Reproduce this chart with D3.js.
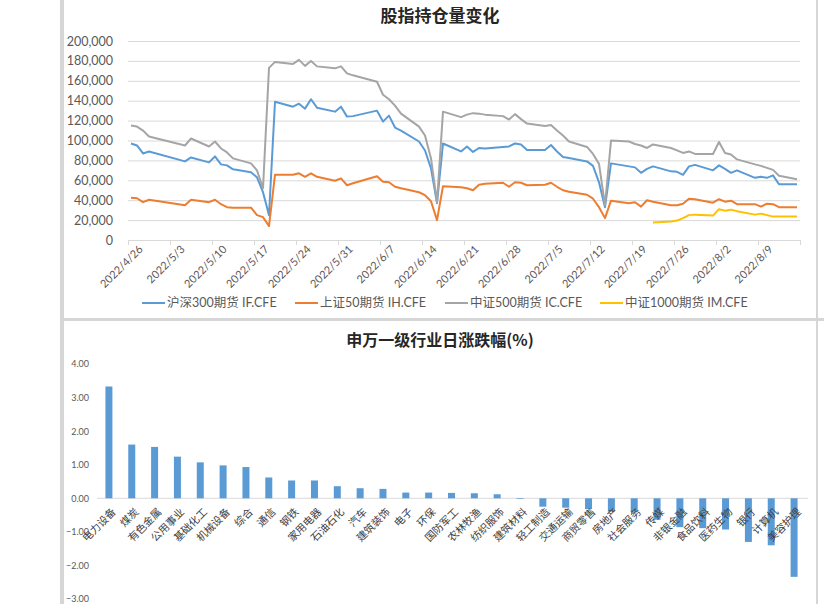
<!DOCTYPE html>
<html><head><meta charset="utf-8">
<script src="https://cdn.jsdelivr.net/npm/d3@7/dist/d3.min.js"></script>
<style>
html,body{margin:0;padding:0;background:#fff;}
svg{display:block;}
</style></head>
<body>
<svg id="chart" width="824" height="604"></svg>
<script>
// ---------- DATA ----------
const dates = ["2022-04-26","2022-04-27","2022-04-28","2022-04-29","2022-05-05","2022-05-06","2022-05-09","2022-05-10","2022-05-11","2022-05-12","2022-05-13","2022-05-16","2022-05-17","2022-05-18","2022-05-19","2022-05-20","2022-05-23","2022-05-24","2022-05-25","2022-05-26","2022-05-27","2022-05-30","2022-05-31","2022-06-01","2022-06-02","2022-06-06","2022-06-07","2022-06-08","2022-06-09","2022-06-10","2022-06-13","2022-06-14","2022-06-15","2022-06-16","2022-06-17","2022-06-20","2022-06-21","2022-06-22","2022-06-23","2022-06-24","2022-06-27","2022-06-28","2022-06-29","2022-06-30","2022-07-01","2022-07-04","2022-07-05","2022-07-06","2022-07-07","2022-07-08","2022-07-11","2022-07-12","2022-07-13","2022-07-14","2022-07-15","2022-07-18","2022-07-19","2022-07-20","2022-07-21","2022-07-22","2022-07-25","2022-07-26","2022-07-27","2022-07-28","2022-07-29","2022-08-01","2022-08-02","2022-08-03","2022-08-04","2022-08-05","2022-08-08","2022-08-09","2022-08-10","2022-08-11","2022-08-12","2022-08-15"];

const seriesIF = [97000,95000,87000,89000,79000,83000,78000,84000,76000,75000,71000,68000,63000,48000,25000,139000,134000,137000,132000,141500,133000,129000,134000,124000,124500,130000,119000,125000,113000,110000,99000,90000,72000,37000,97000,89000,94000,88500,92500,92000,93500,94000,97000,96000,90500,90500,95500,89000,83500,82500,79000,74500,58000,33000,77000,74000,73000,67500,71500,74000,69000,68500,65500,74000,75500,70000,75000,71500,67500,70000,62500,63500,62500,65000,56000,56000];
const seriesIH = [42500,42000,38000,40500,35000,40500,38000,40500,36000,33000,32500,32500,25000,23000,14000,65500,65500,67000,63500,67000,63500,59500,62000,55000,57000,64000,58500,58000,53500,52000,48000,45000,39000,20000,54000,53000,52000,50000,55500,56500,57500,53500,58000,57500,55000,55500,57500,53500,50000,48500,45500,41500,33000,22000,39500,37000,38000,33500,40000,38500,35000,35000,36500,41500,41000,37500,41000,38500,39500,36000,36000,33500,36500,36000,33000,33000];
const seriesIC = [115000,114000,110000,104000,95000,102000,94000,99000,92000,88000,82000,77000,70000,52000,173000,179000,177000,181000,175000,180000,174500,172500,174500,167500,165500,159000,146000,141500,135000,127000,114000,105000,82000,38000,129000,123500,126000,127500,127000,126000,124500,121000,126500,121500,117000,114500,115500,110000,105000,99000,93500,86500,76500,35000,100000,99000,96500,95000,92500,96000,92500,90000,87500,89000,86500,86500,98500,87500,86000,81000,76000,74500,72500,70500,64500,61000];
const seriesIM = [null,null,null,null,null,null,null,null,null,null,null,null,null,null,null,null,null,null,null,null,null,null,null,null,null,null,null,null,null,null,null,null,null,null,null,null,null,null,null,null,null,null,null,null,null,null,null,null,null,null,null,null,null,null,null,null,null,null,null,17500,18500,19500,22000,25000,25500,24500,31000,29500,30500,29000,25500,26500,25000,23500,23500,23500];

const seriesNames = ["沪深300期货 IF.CFE","上证50期货 IH.CFE","中证500期货 IC.CFE","中证1000期货 IM.CFE"];
const seriesColors = ["#5B9BD5","#ED7D31","#A5A5A5","#FFC000"];
const yTicksTop = [0,20000,40000,60000,80000,100000,120000,140000,160000,180000,200000];

const industries = ["电力设备","煤炭","有色金属","公用事业","基础化工","机械设备","综合","通信","钢铁","家用电器","石油石化","汽车","建筑装饰","电子","环保","国防军工","农林牧渔","纺织服饰","建筑材料","轻工制造","交通运输","商贸零售","房地产","社会服务","传媒","非银金融","食品饮料","医药生物","银行","计算机","美容护理"];
const changes = [3.33,1.60,1.53,1.24,1.07,0.98,0.93,0.62,0.53,0.53,0.36,0.30,0.28,0.17,0.17,0.16,0.15,0.12,-0.02,-0.25,-0.28,-0.32,-0.40,-0.40,-0.64,-0.86,-0.89,-0.93,-1.30,-1.40,-2.34];
const yTicksBottom = [-3,-2,-1,0,1,2,3,4];

// ---------- SETUP ----------
const svg = d3.select("#chart");
const gray = "#595959";
const latin = "Lato, 'Noto Sans CJK SC', sans-serif";
const cjk = "'Noto Sans CJK SC', sans-serif";

// frame
svg.append("rect").attr("x",0).attr("y",0).attr("width",824).attr("height",604).attr("fill","#fff");
svg.append("rect").attr("x",60).attr("y",0).attr("width",4).attr("height",604).attr("fill","#d6d6d6");
svg.append("rect").attr("x",60).attr("y",318).attr("width",764).attr("height",3).attr("fill","#d6d6d6");
svg.append("rect").attr("x",816).attr("y",0).attr("width",2).attr("height",604).attr("fill","#d6d6d6");

// ---------- TOP CHART ----------
const parse = d3.timeParse("%Y-%m-%d");
const dts = dates.map(parse);
const x = d3.scaleTime().domain([parse("2022-04-26"), parse("2022-08-16")]).range([128, 800]);
const y = d3.scaleLinear().domain([0, 200000]).range([240, 41]);
const px = d => x(d3.timeHour.offset(d, 12));

svg.append("text").attr("x",440).attr("y",22).attr("text-anchor","middle")
  .attr("font-family",cjk).attr("font-weight","bold").attr("font-size",17).attr("fill","#262626")
  .text("股指持仓量变化");

// grid + y labels
const gy = svg.append("g").attr("transform","translate(128,0)")
  .call(d3.axisLeft(y).tickValues(yTicksTop).tickSize(-672).tickPadding(15).tickFormat(d3.format(",")));
gy.select(".domain").remove();
gy.selectAll(".tick line").attr("stroke","#d9d9d9").attr("stroke-width",1);
gy.selectAll(".tick text").attr("fill",gray).attr("font-family",latin).attr("font-size",12.5);

// x axis
const xTickVals = d3.timeDay.range(parse("2022-04-26"), parse("2022-08-17"), 7);
const fmt = d3.timeFormat("%Y/%-m/%-d");
const gx = svg.append("g").attr("transform","translate(0,240)")
  .call(d3.axisBottom(x).tickValues(xTickVals).tickSize(5)
    .tickFormat(d => d >= parse("2022-08-16") ? "" : fmt(d)));
gx.select(".domain").attr("stroke","#d9d9d9");
gx.selectAll(".tick line").attr("stroke","#d9d9d9");
gx.selectAll(".tick text").attr("fill",gray).attr("font-family",latin).attr("font-size",11)
  .attr("text-anchor","end").attr("transform","translate(8,3) rotate(-45)").attr("dy","0.35em").attr("y",6);

// lines
const allSeries = [seriesIF, seriesIH, seriesIC, seriesIM];
const line = d3.line().defined(v => v.v != null).x(v => px(v.d)).y(v => y(v.v));
allSeries.forEach((s, i) => {
  const pts = s.map((v, j) => ({d: dts[j], v: v}));
  svg.append("path").datum(pts).attr("d", line).attr("fill","none")
    .attr("stroke", seriesColors[i]).attr("stroke-width", 2).attr("stroke-linejoin","round");
});

// legend
const legX = [142, 295, 445, 600];
seriesNames.forEach((n, i) => {
  const g = svg.append("g").attr("transform", `translate(${legX[i]},303)`);
  g.append("line").attr("x1",0).attr("x2",23).attr("y1",0).attr("y2",0)
    .attr("stroke",seriesColors[i]).attr("stroke-width",2);
  g.append("text").attr("x",25).attr("y",0).attr("dy","0.35em").attr("fill",gray)
    .attr("font-family",latin).attr("font-size",12.5).text(n);
});

// ---------- BOTTOM CHART ----------
svg.append("text").attr("x",440).attr("y",346).attr("text-anchor","middle")
  .attr("font-family",cjk).attr("font-weight","bold").attr("font-size",16).attr("fill","#262626")
  .text("申万一级行业日涨跌幅(%)");

const xb = d3.scaleBand().domain(industries).range([97.5, 805.5]).padding(0);
const yb = d3.scaleLinear().domain([-3, 4]).range([599, 364]);

const gyb = svg.append("g").attr("transform","translate(90,0)")
  .call(d3.axisLeft(yb).tickValues(yTicksBottom).tickSize(0).tickPadding(1).tickFormat(d3.format(".2f")));
gyb.select(".domain").remove();
gyb.selectAll(".tick text").attr("fill",gray).attr("font-family",latin).attr("font-size",9);

// zero line
svg.append("line").attr("x1",97).attr("x2",808).attr("y1",yb(0)).attr("y2",yb(0))
  .attr("stroke","#d9d9d9").attr("stroke-width",1);

const bw = 7;
svg.append("g").selectAll("rect").data(industries).join("rect")
  .attr("x", d => xb(d) + xb.bandwidth()/2 - bw/2)
  .attr("width", bw)
  .attr("y", (d,i) => yb(Math.max(0, changes[i])))
  .attr("height", (d,i) => Math.abs(yb(changes[i]) - yb(0)))
  .attr("fill", "#5B9BD5");

// category labels
svg.append("g").selectAll("text").data(industries).join("text")
  .attr("transform", d => `translate(${xb(d) + xb.bandwidth()/2 + 5},510) rotate(-45)`)
  .attr("text-anchor","end").attr("dy","0.35em")
  .attr("font-family",cjk).attr("font-size",10.5).attr("fill","#404040")
  .text(d => d);
</script>
</body></html>
